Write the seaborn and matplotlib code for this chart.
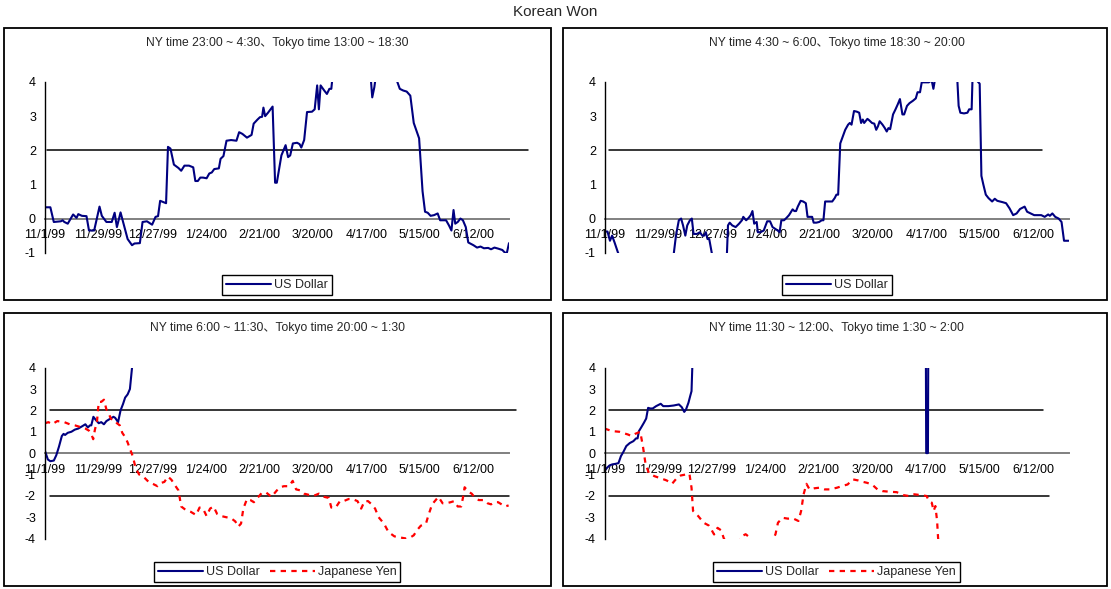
import matplotlib
matplotlib.use('Agg')
import matplotlib.pyplot as plt
from matplotlib.patches import Rectangle
import seaborn as sns

# x axis: days counted from 11/1/99
tick_days = [0, 28, 56, 84, 112, 140, 168, 196, 224]
tick_labels = ['11/1/99', '11/29/99', '12/27/99', '1/24/00', '2/21/00',
               '3/20/00', '4/17/00', '5/15/00', '6/12/00']
x_end = 242.6

titles = ['NY time 23:00 ~ 4:30、Tokyo time 13:00 ~ 18:30',
          'NY time 4:30 ~ 6:00、Tokyo time 18:30 ~ 20:00',
          'NY time 6:00 ~ 11:30、Tokyo time 20:00 ~ 1:30',
          'NY time 11:30 ~ 12:00、Tokyo time 1:30 ~ 2:00']

# panel 1 (top left) - US Dollar
p1_usd_days = [0, 2.8, 4.6, 8.3, 9.2, 10.1, 11.9, 14.7, 16.5, 17.4, 19.3, 21.7, 23.0, 25.7,
               28.5, 29.7, 32.1, 34.9, 36.4, 37.6, 39.5, 41.3, 43.2, 45.5, 46.8, 49.6, 51.0,
               53.3, 56.0, 57.8, 59.1, 60.2, 62.4, 63.3, 64.3, 65.6, 67.4, 69.8, 71.2, 72.9,
               75.3, 77.5, 78.6, 79.9, 81.2, 82.6, 84.5, 85.9, 87.2, 88.5, 90.9, 91.8, 93.3,
               94.9, 97.3, 100.1, 101.5, 103.2, 105.6, 108.0, 109.1, 111.1, 112.4, 113.5,
               114.2, 115.1, 116.6, 119.0, 120.3, 121.2, 123.6, 125.8, 127.1, 128.2, 129.6,
               131.8, 133.1, 134.0, 135.5, 137.0, 139.6, 141.0, 142.3, 143.2, 144.1, 146.0,
               147.4, 148.7, 149.7, 150.6, 160.0, 169.8, 171.1, 172.2, 173.5, 178.0, 182.7,
               183.6, 185.5, 187.3, 189.1, 191.0, 192.8, 195.6, 197.4, 198.7, 200.1, 201.6,
               203.4, 205.3, 206.6, 209.7, 211.2, 212.5, 213.6, 214.5, 215.8, 217.2, 218.5,
               220.0, 221.3, 224.0, 225.9, 227.7, 229.5, 231.7, 233.2, 235.0, 236.9, 239.1,
               240.5, 241.5, 242.6]
p1_usd = [0.33, 0.33, -0.1, -0.08, -0.05, -0.1, -0.15, 0.12, 0.02, 0.13, 0.08, 0.07, -0.35,
          -0.35, 0.35, 0.08, -0.1, -0.1, 0.17, -0.25, 0.18, -0.2, -0.6, -0.78, -0.73, -0.72,
          -0.1, -0.08, -0.18, 0.05, 0.07, 0.52, 0.47, 0.45, 2.1, 2.05, 1.58, 1.48, 1.4, 1.55,
          1.55, 1.5, 1.1, 1.1, 1.2, 1.2, 1.18, 1.32, 1.35, 1.45, 1.47, 1.75, 1.83,
          2.28, 2.3, 2.28, 2.53, 2.48, 2.37, 2.45, 2.78, 2.9, 2.97, 2.98,
          3.25, 3.0, 3.1, 3.28, 1.05, 1.05, 1.85, 2.15, 1.8, 1.85, 2.2,
          2.22, 2.18, 2.08, 2.3, 3.12, 3.13, 3.2, 3.9, 3.2, 3.9, 3.75,
          3.65, 3.8, 3.8, 4.3, 5.0, 4.5, 3.55, 3.85, 4.4, 5.0, 4.3,
          4.1, 3.8, 3.75, 3.72, 3.6, 2.8, 2.35, 0.8, 0.2, 0.17, 0.08,
          0.1, 0.15, -0.05, -0.05, -0.2, -0.35, 0.25, -0.15, -0.1, 0.0, -0.05,
          -0.25, -0.7, -0.78, -0.85, -0.82, -0.87, -0.86, -0.9, -0.85, -0.88, -0.92,
          -1.0, -1.0, -0.72]

# panel 2 (top right) - US Dollar
p2_usd_days = [0, 1.3, 2.6, 3.7, 5.0, 6.8, 7.7, 22.4, 35.8, 37.1, 38.6, 39.8, 40.8, 42.0,
               43.0, 44.4, 45.4, 46.3, 48.1, 49.6, 50.9, 51.8, 52.7, 53.6, 54.5, 55.8, 57.3,
               60.6, 63.7, 64.3, 65.2, 66.5, 68.3, 70.1, 71.6, 72.3, 73.8, 75.1, 76.2, 77.1,
               78.0, 79.3, 79.9, 81.2, 83.0, 84.8, 86.3, 87.6, 88.9, 90.3, 91.3, 92.2, 93.6,
               94.9, 96.2, 97.3, 98.1, 99.0, 99.9, 100.8, 102.3, 103.6, 105.0, 105.9, 107.2,
               108.3, 109.1, 110.5, 112.0, 113.3, 114.2, 115.1, 117.0, 118.8, 120.1, 121.0,
               121.9, 123.0, 124.3, 125.6, 127.1, 128.0, 128.9, 130.2, 131.7, 132.9, 133.9,
               134.8, 135.5, 136.2, 137.2, 138.1, 139.6, 140.8, 141.8, 142.7, 143.6, 145.1,
               146.3, 147.3, 148.2, 149.1, 150.6, 151.9, 153.1, 154.2, 155.5, 156.4, 157.9,
               159.2, 161.0, 162.5, 163.4, 164.7, 165.6, 169.3, 170.8, 171.7, 172.6, 176.6,
               183.1, 184.0, 184.9, 185.8, 187.7, 189.5, 190.4, 191.7, 192.4, 194.3, 195.9,
               196.8, 197.8, 199.1, 200.5, 202.4, 203.8, 205.1, 207.9, 209.7, 211.5, 213.4,
               215.2, 217.0, 219.4, 220.7, 222.5, 224.4, 226.2, 228.1, 229.9, 231.7, 232.6,
               233.9, 235.4, 237.2, 238.7, 240.0, 242.4]
p2_usd = [-0.38, -0.38, -0.65, -0.5, -0.7, -1.0, -1.1, -2.0, -1.1, -0.5, -0.05, 0.0, -0.2,
          -0.5, -0.2, -0.05, 0.0, -0.45, -0.45, -0.4, -0.5, -0.5, -0.4, -0.6, -0.6, -1.0,
          -1.3, -1.5, -1.1, -0.2, -0.12, -0.2, -0.25, -0.15, -0.05, 0.05, -0.05, 0.02, 0.1,
          0.22, -0.15, -0.1, -0.4, -0.4, -0.35, -0.08, -0.08, -0.25, -0.3, -0.35, -0.4,
          -0.05, -0.05, 0.02, 0.1, 0.2, 0.27, 0.22, 0.22, 0.35, 0.52, 0.5, 0.45, 0.05, 0.05,
          0.05, -0.12, -0.12, -0.1, -0.05, -0.05, 0.5, 0.5, 0.5, 0.6, 0.7,
          0.7, 2.2, 2.4, 2.6, 2.75, 2.8, 2.75, 3.15, 3.13, 3.1, 2.8,
          2.9, 2.8, 2.85, 2.92, 2.88, 2.8, 2.78, 2.6, 2.7, 2.85, 2.75,
          2.65, 2.55, 2.65, 2.62, 3.05, 3.2, 3.35, 3.5, 3.05, 3.05, 3.3,
          3.38, 3.45, 3.52, 3.7, 3.7, 3.99, 3.99, 4.05, 3.8, 4.1, 5.0,
          5.0, 4.3, 3.3, 3.1, 3.08, 3.1, 3.2, 3.2, 4.6, 4.05, 3.95,
          1.25, 1.0, 0.7, 0.6, 0.5, 0.58, 0.52, 0.48, 0.45, 0.3, 0.1,
          0.15, 0.28, 0.35, 0.2, 0.15, 0.1, 0.1, 0.1, 0.05, 0.12, 0.08,
          0.15, 0.05, 0.0, -0.1, -0.65, -0.65]

# panel 3 (bottom left) - US Dollar and Japanese Yen
p3_usd_days = [0, 1.5, 2.8, 4.6, 5.9, 7.3, 8.8, 9.7, 10.5, 11.9, 13.8, 15.6, 17.4, 19.3,
               21.1, 22.4, 23.5, 24.2, 25.3, 26.6, 28.1, 29.4, 30.8, 32.1, 33.9, 35.8, 36.7,
               38.2, 39.5, 40.8, 41.9, 43.2, 44.4, 45.5, 45.9]
p3_usd = [0.1, -0.3, -0.38, -0.35, -0.1, 0.3, 0.8, 0.9, 0.85, 0.95, 1.0, 1.1, 1.15, 1.25,
          1.35, 1.2, 1.3, 1.3, 1.7, 1.55, 1.4, 1.45, 1.35, 1.5, 1.6, 1.7, 1.65,
          1.45, 2.0, 2.3, 2.6, 2.75, 3.0, 4.0, 4.5]
p3_jpy_days = [0, 1.8, 3.7, 6.4, 10.1, 12.9, 15.6, 17.4, 19.3, 21.1, 23.0, 24.2, 25.2, 26.1,
               27.2, 28.1, 29.4, 30.8, 32.1, 33.1, 34.5, 36.4, 37.6, 39.1, 40.4, 41.9, 43.2,
               44.4, 45.9, 47.4, 49.2, 51.4, 54.2, 56.6, 58.8, 60.6, 62.4, 64.3, 66.1, 67.9,
               69.8, 71.2, 73.4, 76.2, 79.0, 80.8, 82.6, 84.5, 86.3, 88.1, 90.0, 92.2, 94.6,
               97.3, 99.5, 101.0, 102.5, 103.7, 105.6, 107.4, 109.2, 111.1, 113.5, 115.7,
               118.4, 121.2, 123.0, 124.9, 127.6, 129.5, 131.3, 133.7, 135.5, 137.7, 140.5,
               143.2, 146.0, 148.4, 149.7, 152.0, 154.2, 156.1, 158.8, 160.7, 163.4, 165.3,
               167.1, 168.9, 170.8, 172.6, 174.4, 177.2, 179.6, 182.7, 185.5, 188.8, 191.0,
               192.8, 194.6, 196.5, 199.2, 200.5, 202.4, 203.8, 205.7, 207.9, 209.7, 212.1,
               213.9, 215.8, 217.6, 218.5, 219.4, 221.3, 223.1, 224.9, 226.8, 229.5, 231.4,
               233.2, 235.0, 236.9, 238.7, 240.5, 242.4]
p3_jpy = [1.4, 1.45, 1.35, 1.5, 1.45, 1.35, 1.3, 1.25, 1.2, 1.15, 1.05, 0.9, 0.65, 1.1,
          1.5, 2.4, 2.4, 2.5, 2.05, 1.9, 1.6, 1.55, 1.4, 1.3, 0.95, 0.75, 0.5,
          0.2, -0.15, -0.7, -1.0, -1.1, -1.35, -1.45, -1.55, -1.4, -1.35, -1.1, -1.25, -1.5,
          -1.75, -2.5, -2.65, -2.75, -2.9, -2.55, -2.6, -2.95, -2.6, -2.5, -2.85, -2.95, -3.0,
          -3.05, -3.2, -3.45, -3.3, -2.6, -2.15, -2.2, -2.3, -2.1, -1.85, -1.85,
          -2.05, -1.75, -1.6, -1.55, -1.55, -1.3, -1.7, -1.75, -1.9, -1.95, -2.0,
          -1.9, -2.05, -2.1, -2.55, -2.55, -2.25, -2.25, -2.15, -2.15, -2.25, -2.6,
          -2.25, -2.25, -2.4, -2.6, -3.0, -3.3, -3.7, -3.9, -3.95, -4.0, -3.95,
          -3.85, -3.6, -3.4, -3.3, -2.9, -2.4, -2.25, -2.05, -2.35, -2.35, -2.3,
          -2.25, -2.5, -2.5, -2.1, -1.6, -1.8, -1.9, -2.1, -2.2, -2.2, -2.35,
          -2.4, -2.3, -2.3, -2.4, -2.5, -2.45]

# panel 4 (bottom right) - US Dollar and Japanese Yen
p4_usd_days = [0, 1.3, 2.6, 4.0, 5.9, 7.3, 8.6, 9.9, 11.4, 13.2, 15.1, 16.5, 17.3, 18.0,
               19.1, 20.6, 21.8, 22.8, 23.9, 25.2, 27.0, 29.4, 30.7, 33.4, 36.2, 38.9, 40.4,
               41.7, 42.6, 43.9, 44.8, 45.5, 45.9, 46.3, 100.0, 167.9, 168.2, 169.1, 169.4,
               242.6]
p4_usd = [-0.84, -0.69, -0.58, -0.53, -0.5, -0.47, -0.14, 0.06, 0.33, 0.47, 0.56, 0.69, 0.69,
          1.03, 1.19, 1.42, 1.62, 2.12, 2.09, 2.09, 2.2, 2.31, 2.2, 2.2, 2.23, 2.28, 2.15,
          1.93, 2.04, 2.36, 2.67, 2.9, 4.0, 4.6, 8.0, 8.0, 0.0, 0.0, 8.0,
          8.0]
p4_jpy_days = [0, 4.0, 7.7, 12.3, 14.1, 16.0, 18.7, 20.2, 21.5, 23.3, 26.1, 29.7, 32.5, 35.3,
               38.0, 39.8, 42.6, 44.4, 45.5, 46.3, 49.0, 51.8, 54.5, 55.8, 57.3, 59.1, 61.0,
               62.4, 64.6, 69.2, 72.0, 73.8, 76.6, 78.4, 86.7, 89.4, 90.7, 93.1, 95.9, 98.6,
               101.4, 102.8, 104.1, 105.6, 107.2, 109.6, 112.4, 115.1, 117.9, 121.6, 124.3,
               127.1, 129.8, 132.6, 134.8, 137.2, 139.9, 142.7, 145.4, 149.1, 152.8, 156.4,
               159.2, 162.0, 165.6, 168.4, 169.7, 171.1, 172.1, 173.0, 173.9, 174.4, 174.8]
p4_jpy = [1.15, 1.03, 1.0, 0.87, 0.8, 0.9, 1.0, 0.25, -0.53, -0.95, -1.08, -1.19, -1.28, -1.44,
          -1.15, -1.05, -1.0, -0.97, -1.62, -2.71, -2.95, -3.26, -3.39, -3.57, -3.81, -3.5, -3.62,
          -4.0, -4.3, -4.3, -3.88, -3.8, -4.0, -4.3, -4.3, -3.8, -3.26, -3.03, -3.07, -3.06,
          -3.18, -2.71, -1.93, -1.44, -1.7, -1.65, -1.62, -1.7, -1.7, -1.62, -1.54,
          -1.47, -1.23, -1.28, -1.34, -1.39, -1.47, -1.7, -1.78, -1.81, -1.83, -1.97,
          -2.01, -1.93, -1.97, -2.01, -2.25, -2.32, -2.71, -2.48, -3.18, -3.96, -4.3]

# +2 / -2 reference lines: start and end day of each
ref_up_start = [1.0, 2.2, 2.7, 2.2]
ref_up_end = [252.7, 228.6, 246.0, 229.5]
ref_dn_start = [None, None, 2.7, 2.2]
ref_dn_end = [None, None, 242.7, 232.3]

usd_color = '#000080'
jpy_color = '#ff0000'

sns.set_style('white')
plt.rcParams['font.family'] = ['Liberation Sans', 'Noto Sans CJK JP', 'DejaVu Sans']
plt.rcParams['axes.unicode_minus'] = False

W, H = 1111, 589
fig = plt.figure(figsize=(W / 100, H / 100), dpi=100)


def fig_box(x0, y0, x1, y1):
    # pixel box (top-left origin) -> figure fraction rect
    return [x0 / W, 1 - y1 / H, (x1 - x0) / W, (y1 - y0) / H]


frames = [(4, 28, 551, 300), (563, 28, 1107, 300), (4, 313, 551, 586), (563, 313, 1107, 586)]
axes_px = [(45, 82, 509, 252.7), (605, 82, 1069, 252.7),
           (45, 367.7, 509, 538.5), (604.5, 367.7, 1068.5, 538.5)]
title_y = [43, 43, 328, 328]
legend_y = [285, 285, 572, 572]

panels = [
    (p1_usd_days, p1_usd, None, None),
    (p2_usd_days, p2_usd, None, None),
    (p3_usd_days, p3_usd, p3_jpy_days, p3_jpy),
    (p4_usd_days, p4_usd, p4_jpy_days, p4_jpy),
]

for i, (ud, uv, jd, jv) in enumerate(panels):
    fr = fig_box(*frames[i])
    fig.patches.append(Rectangle((fr[0], fr[1]), fr[2], fr[3], transform=fig.transFigure,
                                 fill=False, edgecolor='black', linewidth=1.3))
    ax = fig.add_axes(fig_box(*axes_px[i]))
    ax.patch.set_alpha(0)

    sns.lineplot(x=ud, y=uv, ax=ax, color=usd_color, linewidth=1.5,
                 label='US Dollar', errorbar=None)
    if jd is not None:
        sns.lineplot(x=jd, y=jv, ax=ax, color=jpy_color, linewidth=1.6,
                     linestyle=(0, (2.4, 2.4)), label='Japanese Yen', errorbar=None)

    ax.plot([ref_up_start[i], ref_up_end[i]], [2, 2], color='black', linewidth=1.1,
            clip_on=False, zorder=1)
    if ref_dn_start[i] is not None:
        ax.plot([ref_dn_start[i], ref_dn_end[i]], [-2, -2], color='black', linewidth=1.1,
                clip_on=False, zorder=1)

    if jd is None:
        ax.set_ylim(-1, 4)
        ax.set_yticks(range(-1, 5))
    else:
        ax.set_ylim(-4, 4)
        ax.set_yticks(range(-4, 5))
    ax.set_xlim(0, x_end)
    ax.set_xticks(tick_days)
    ax.set_xticklabels(tick_labels)

    for s in ['top', 'right']:
        ax.spines[s].set_visible(False)
    ax.spines['left'].set_color('black')
    ax.spines['left'].set_linewidth(1.0)
    ax.spines['bottom'].set_position(('data', 0))
    ax.spines['bottom'].set_color('#808080')
    ax.spines['bottom'].set_linewidth(1.4)
    ax.spines['bottom'].set_zorder(0.5)

    ax.tick_params(axis='x', direction='in', length=3.5, width=1, color='#303030',
                   pad=7.5, labelsize=9, labelcolor='black')
    ax.tick_params(axis='y', direction='out', length=3.5, width=1, color='black',
                   pad=3, labelsize=9, labelcolor='black')
    ax.set_xlabel('')
    ax.set_ylabel('')
    ax.grid(False)

    cx = (axes_px[i][0] + axes_px[i][2]) / 2 / W
    fig.text(cx, 1 - title_y[i] / H, titles[i], ha='center', va='center', fontsize=8.7)

    handles, labels = ax.get_legend_handles_labels()
    ax.legend(handles, labels, loc='center', bbox_to_anchor=(cx, 1 - legend_y[i] / H),
              bbox_transform=fig.transFigure, ncol=len(labels), frameon=True,
              fancybox=False, edgecolor='black', framealpha=1, fontsize=9,
              handlelength=3.6, handletextpad=0.25, columnspacing=0.8,
              borderpad=0.3, borderaxespad=0)
    ax.get_legend().get_frame().set_linewidth(1.0)

fig.text(0.5, 1 - 12 / H, 'Korean Won', ha='center', va='center', fontsize=11)

fig.savefig('out.png', dpi=100)
